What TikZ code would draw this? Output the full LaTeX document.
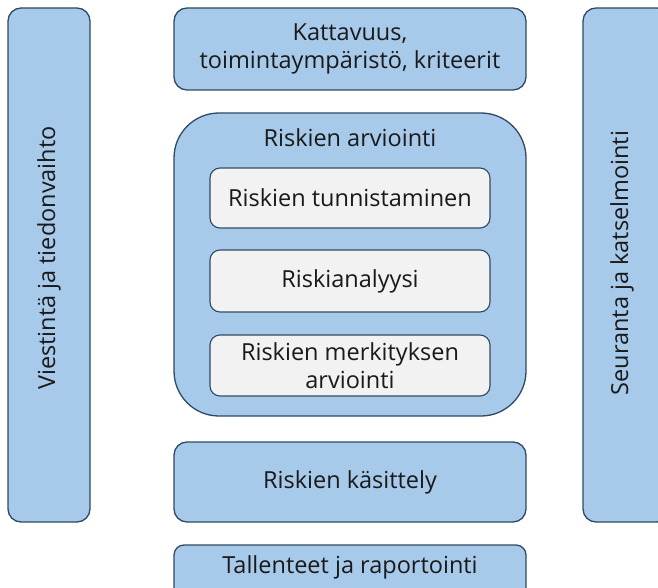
\documentclass[tikz,border=0pt]{standalone}
\usepackage{fontspec}
\setmainfont{Open Sans}
\definecolor{boxfill}{HTML}{A7CAEB}
\definecolor{boxline}{HTML}{2F4A64}
\definecolor{innerfill}{HTML}{F2F2F2}
\definecolor{txt}{HTML}{1A1A1A}
\begin{document}
\begin{tikzpicture}[x=1pt,y=-1pt,
  bluebox/.style={draw=boxline,fill=boxfill,line width=1.3pt,rounded corners=13pt},
  innerbox/.style={draw=boxline,fill=innerfill,line width=1.1pt,rounded corners=10pt},
  lab/.style={text=txt,font=\fontsize{23.5}{28}\selectfont,align=center,inner sep=0pt}]
\useasboundingbox (0,0) rectangle (658,588);
\begin{scope}
\clip (0,0) rectangle (658,588);
\draw[bluebox] (8,8) rectangle (90,522);
\draw[bluebox] (583,8) rectangle (670,522);
\draw[bluebox] (174,8) rectangle (526,90);
\draw[bluebox,rounded corners=45pt] (174,113) rectangle (526,416);
\draw[innerbox] (210,168) rectangle (490,228);
\draw[innerbox] (210,250) rectangle (490,312);
\draw[innerbox] (210,335) rectangle (490,396);
\draw[bluebox] (174,442) rectangle (526,522);
\draw[bluebox,rounded corners=10pt] (174,545) rectangle (526,600);
\end{scope}
\node[lab,rotate=90] (left) at (49,258) {Viestintä ja tiedonvaihto};
\node[lab,rotate=90] (right) at (622,263) {Seuranta ja katselmointi};
\node[lab] (scope) at (350,49) {Kattavuus,\\toimintaympäristö, kriteerit};
\node[lab] (assess) at (350,138) {Riskien arviointi};
\node[lab] (ident) at (350,198) {Riskien tunnistaminen};
\node[lab] (anal) at (350,281) {Riskianalyysi};
\node[lab] (eval) at (350,366) {Riskien merkityksen\\arviointi};
\node[lab] (treat) at (350,482) {Riskien käsittely};
\node[lab] (rec) at (350,567) {Tallenteet ja raportointi};
\end{tikzpicture}
\end{document}
